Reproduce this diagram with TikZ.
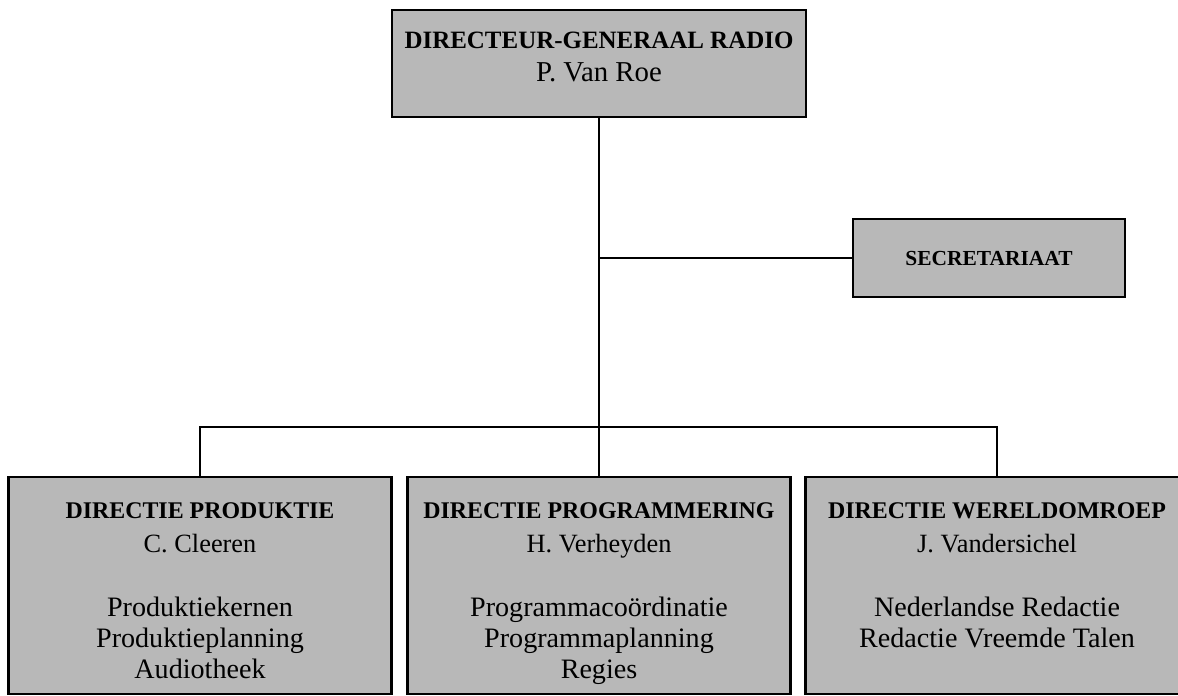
\documentclass[tikz,border=0pt]{standalone}
\usepackage{fontspec}
\setmainfont{Liberation Serif}
\usepackage{tikz}
\usetikzlibrary{calc, positioning}
\definecolor{screen}{RGB}{184, 184, 184}

\tikzset{
  unit/.style={draw=black, fill=screen, line width=0.7pt, inner sep=0pt},
  unittext/.style={align=center, inner sep=0pt, font=\fontsize{8}{8.9}\selectfont},
  link/.style={line width=0.7pt}
}
\newcommand{\headline}[1]{{\fontsize{6.8}{8.9}\selectfont\bfseries #1}}
\newcommand{\chief}[1]{{\fontsize{7.5}{8.9}\selectfont #1}}

\begin{document}
\begin{tikzpicture}[x=0.1mm, y=-0.1mm]
  \useasboundingbox (0, 0) rectangle (1178, 695);

  % top
  \node [unit, minimum width=41.4mm, minimum height=10.7mm] (dg) at (599, 63.5) {};
  \node [unittext, anchor=north] (dgtext) at ($(dg.north)+(0, 23)$)
    {{\fontsize{7.1}{9}\selectfont\bfseries DIRECTEUR-GENERAAL RADIO}\\[0.4pt]
     {\fontsize{8.2}{9}\selectfont P. Van Roe}};

  \node [unit, minimum width=27.2mm, minimum height=7.8mm,
    font=\fontsize{6.1}{7}\selectfont\bfseries] (sec) at (989, 258) {SECRETARIAAT};

  % directies
  \node [unit, minimum width=38.3mm, minimum height=21.7mm, anchor=north] (prod) at (200, 476) {};
  \node [unit, minimum width=38.3mm, minimum height=21.7mm, anchor=north] (prog) at (599, 476) {};
  \node [unit, minimum width=38.3mm, minimum height=21.7mm, anchor=north] (wereld) at (997, 476) {};

  \node [unittext, anchor=north] (prodtext) at ($(prod.north)+(0, 26)$)
    {\headline{DIRECTIE PRODUKTIE}\\[0.8pt] \chief{C. Cleeren}\\[9.2pt]
     Produktiekernen\\ Produktieplanning\\ Audiotheek};
  \node [unittext, anchor=north] (progtext) at ($(prog.north)+(0, 26)$)
    {\headline{DIRECTIE PROGRAMMERING}\\[0.8pt] \chief{H. Verheyden}\\[9.2pt]
     Programmaco\"ordinatie\\ Programmaplanning\\ Regies};
  \node [unittext, anchor=north] (wereldtext) at ($(wereld.north)+(0, 26)$)
    {\headline{DIRECTIE WERELDOMROEP}\\[0.8pt] \chief{J. Vandersichel}\\[9.2pt]
     Nederlandse Redactie\\ Redactie Vreemde Talen};

  % lines
  \coordinate (bus) at ($(prog.north)+(0, -49)$);
  \draw [link] (dg.south) -- (prog.north);
  \draw [link] (dg.south |- sec.west) -- (sec.west);
  \draw [link] (prod.north) |- (bus) -| (wereld.north);
\end{tikzpicture}
\end{document}
